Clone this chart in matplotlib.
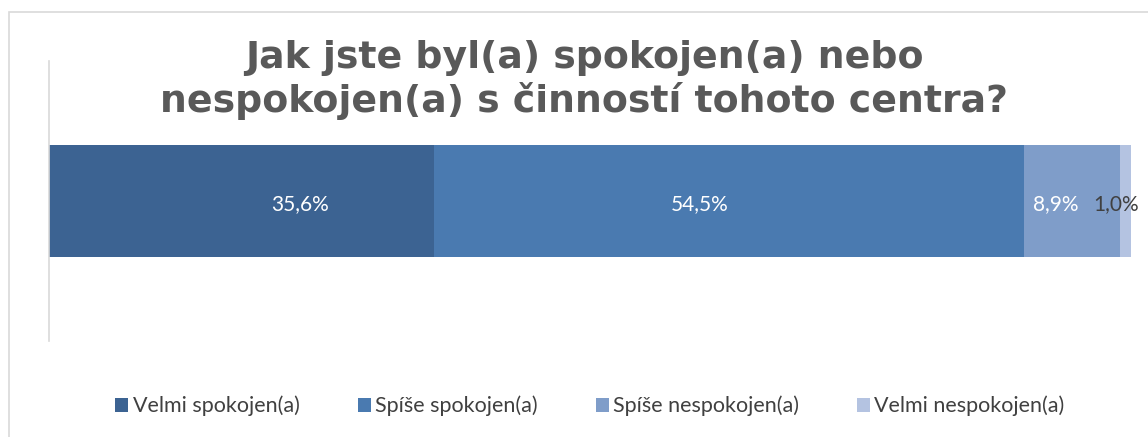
import numpy as np
import matplotlib.pyplot as plt
from matplotlib.patches import Rectangle, Patch

# Data
categories = ['Velmi spokojen(a)', 'Spíše spokojen(a)', 'Spíše nespokojen(a)', 'Velmi nespokojen(a)']
values = [35.6, 54.5, 8.9, 1.0]
labels = ['35,6%', '54,5%', '8,9%', '1,0%']
colors = ['#3C6392', '#4A7AB0', '#7F9DC9', '#B4C3E1']
label_colors = ['white', 'white', 'white', '#404040']
# labels in the original were nudged away from the segment centres
label_shift = [5.4, -2.7, -1.5, -0.9]
title = 'Jak jste byl(a) spokojen(a) nebo\nnespokojen(a) s činností tohoto centra?'

W, H = 1148, 437
fig = plt.figure(figsize=(W / 100, H / 100), dpi=100)

# chart area border (light gray, runs off the right/bottom edge)
fig.patches.append(Rectangle((9 / W, -0.1), 1.2, (H - 12) / H + 0.1,
                             transform=fig.transFigure, fill=False,
                             edgecolor='#D9D9D9', linewidth=1.2))

ax = fig.add_axes([49 / W, (H - 341) / H, 1082 / W, 280 / H])
left = 0
for val, col, lab, lc, dx in zip(values, colors, labels, label_colors, label_shift):
    ax.barh(0, val, left=left, height=0.4, color=col, edgecolor='none')
    ax.text(left + val / 2 + dx, -0.01, lab, ha='center', va='center', color=lc,
            fontsize=15, family='Lato')
    left += val

ax.set_xlim(0, 100)
ax.set_ylim(-0.5, 0.5)
ax.set_xticks([])
ax.set_yticks([])
for s in ['top', 'right', 'bottom']:
    ax.spines[s].set_visible(False)
ax.spines['left'].set_color('#D9D9D9')
ax.spines['left'].set_linewidth(1.2)

fig.text(584 / W, 1 - 80 / H, title, ha='center', va='center',
         fontsize=27.3, fontweight='bold', color='#595959',
         family='DejaVu Sans', linespacing=1.17)

handles = [Patch(facecolor=c, edgecolor='none') for c in colors]
fig.legend(handles, categories, loc='center', bbox_to_anchor=(590 / W, 1 - 406 / H),
           ncol=4, frameon=False, prop={'family': 'Lato', 'size': 15.5},
           labelcolor='#404040', handlelength=0.6, handleheight=0.6,
           handletextpad=0.2, columnspacing=2.7)

fig.savefig('out.png', dpi=100)
